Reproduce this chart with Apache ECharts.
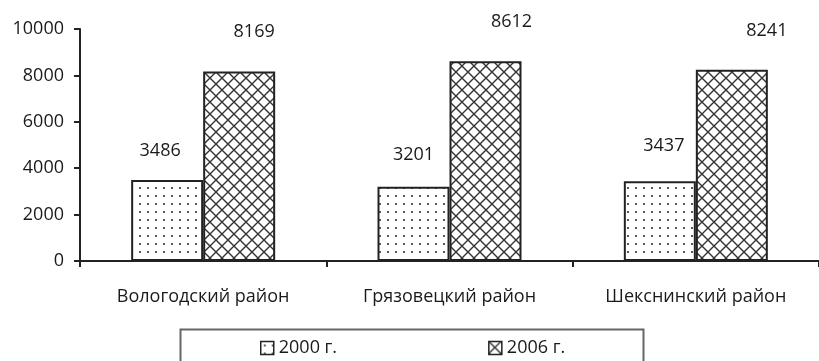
<!DOCTYPE html>
<html>
<head>
<meta charset="utf-8">
<script src="https://cdn.jsdelivr.net/npm/echarts@6/dist/echarts.min.js"></script>
<style>
  html, body { margin: 0; padding: 0; background: #fff; }
  #chart { width: 819px; height: 361px; }
</style>
</head>
<body>
<div id="chart"></div>
<script>
// ---- data ----
const categories = ['Вологодский район', 'Грязовецкий район', 'Шекснинский район'];
const seriesNames = ['2000 г.', '2006 г.'];
const values2000 = [3486, 3201, 3437];
const values2006 = [8169, 8612, 8241];
const yTicks = { min: 0, max: 10000, interval: 2000 };

// label placement (manual, as in the source)
const labelOffsets2000 = [[-7, -19], [0, -22], [4, -25]];
const labelOffsets2006 = [[15, -30], [26, -29], [35, -29]];

const FONT = '"Open Sans", "Noto Sans", sans-serif';
const TXT = '#1a1a1a';

function dotPattern() {
  const c = document.createElement('canvas');
  c.width = 8; c.height = 8;
  const g = c.getContext('2d');
  g.fillStyle = '#fff'; g.fillRect(0, 0, 8, 8);
  g.fillStyle = '#333';
  g.beginPath(); g.arc(4, 4, 1.1, 0, Math.PI * 2); g.fill();
  return c;
}
function crossPattern() {
  const s = 12;
  const c = document.createElement('canvas');
  c.width = s; c.height = s;
  const g = c.getContext('2d');
  g.fillStyle = '#fff'; g.fillRect(0, 0, s, s);
  g.strokeStyle = '#333'; g.lineWidth = 1.4;
  g.beginPath();
  g.moveTo(-2, -2); g.lineTo(s + 2, s + 2);
  g.moveTo(s + 2, -2); g.lineTo(-2, s + 2);
  g.stroke();
  return c;
}

function mkData(vals, offs) {
  return vals.map((v, i) => ({ value: v, label: { offset: offs[i] } }));
}

const chart = echarts.init(document.getElementById('chart'), null, { renderer: 'canvas' });
const barStyle = (img) => ({
  color: { image: img, repeat: 'repeat' },
  borderColor: '#222',
  borderWidth: 2
});
const labelStyle = {
  show: true, position: 'top', distance: 0,
  fontFamily: FONT, fontSize: 18, color: TXT, lineHeight: 20
};

chart.setOption({
  animation: false,
  backgroundColor: '#fff',
  textStyle: { fontFamily: FONT },
  grid: { left: 80, top: 29, width: 744, height: 232, containLabel: false },
  graphic: [{
    type: 'rect', left: 178, top: 327,
    shape: { width: 463, height: 60 },
    style: { fill: 'none', stroke: '#666', lineWidth: 2 }
  }],
  legend: {
    left: 255, top: 334, itemGap: 151,
    itemWidth: 13, itemHeight: 13,
    icon: 'rect',
    textStyle: { fontFamily: FONT, fontSize: 18, color: TXT },
    itemStyle: { borderColor: '#222', borderWidth: 1.5 }
  },
  xAxis: {
    type: 'category', data: categories,
    axisLine: { lineStyle: { color: '#222', width: 2 } },
    axisTick: { show: true, alignWithLabel: false, length: 6, lineStyle: { color: '#222', width: 2 } },
    axisLabel: { fontFamily: FONT, fontSize: 18, color: TXT, margin: 27 }
  },
  yAxis: {
    type: 'value', min: yTicks.min, max: yTicks.max, interval: yTicks.interval,
    axisLine: { show: true, lineStyle: { color: '#222', width: 2 } },
    axisTick: { show: true, length: 6, lineStyle: { color: '#222', width: 2 } },
    splitLine: { show: false },
    axisLabel: { fontFamily: FONT, fontSize: 18, color: TXT, margin: 16, formatter: (v) => String(v) }
  },
  series: [
    {
      name: seriesNames[0], type: 'bar', barWidth: 72, barGap: '0%',
      itemStyle: barStyle(dotPattern()),
      label: labelStyle,
      data: mkData(values2000, labelOffsets2000)
    },
    {
      name: seriesNames[1], type: 'bar', barWidth: 72, barGap: '0%',
      itemStyle: barStyle(crossPattern()),
      label: labelStyle,
      data: mkData(values2006, labelOffsets2006)
    }
  ]
});
</script>
</body>
</html>
